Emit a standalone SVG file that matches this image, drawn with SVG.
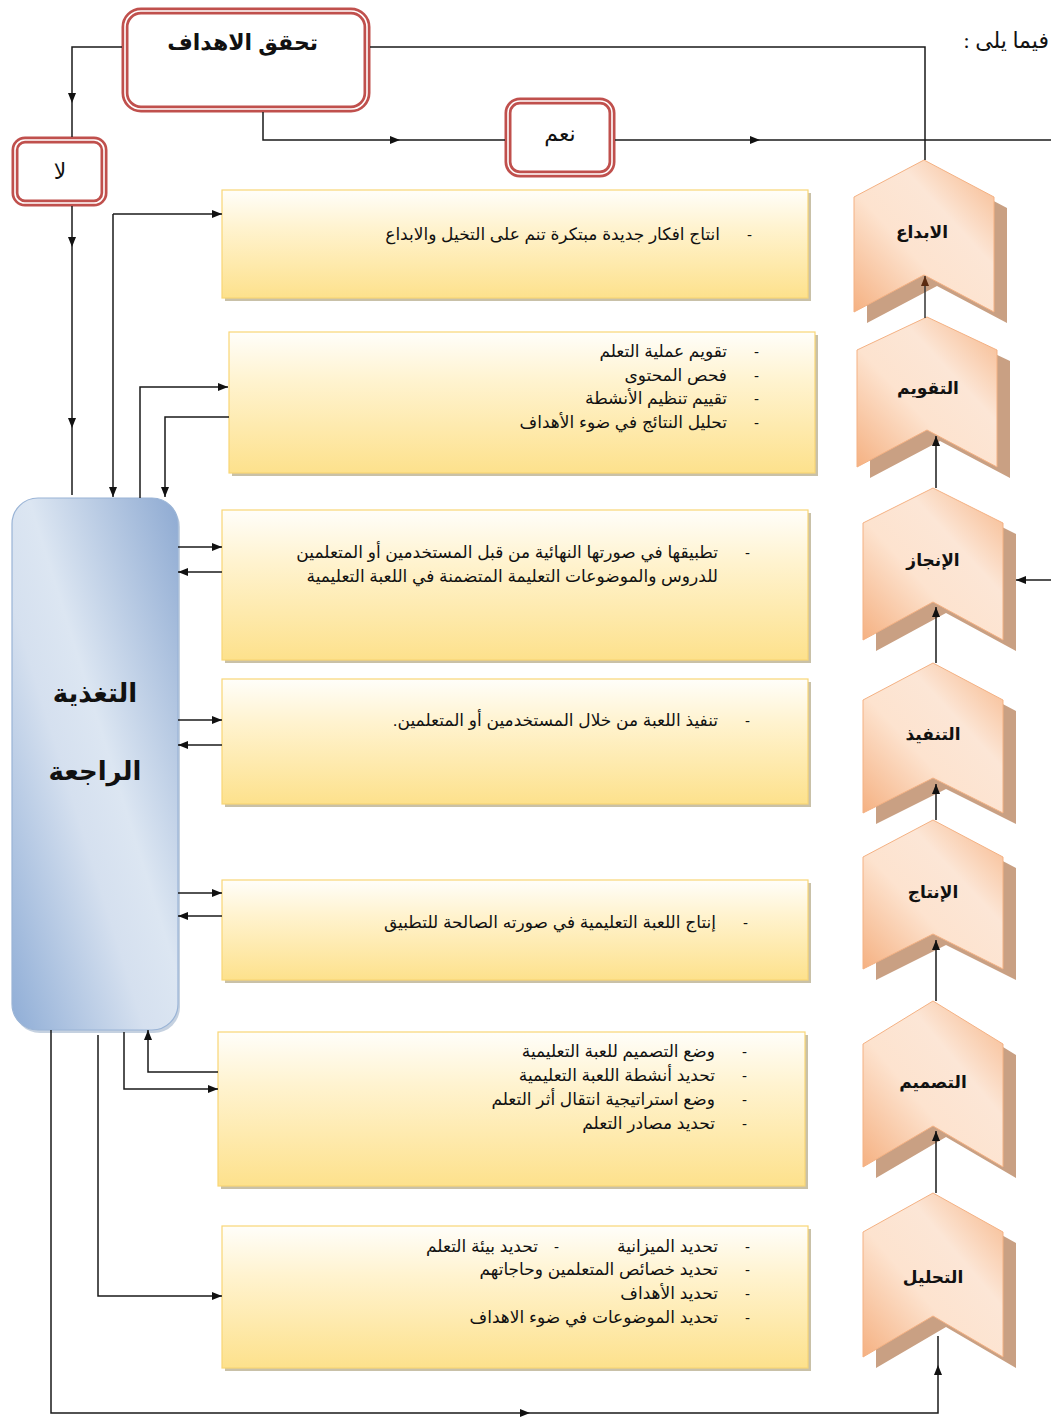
<svg xmlns="http://www.w3.org/2000/svg" width="1051" height="1418" viewBox="0 0 1051 1418">
<style>
.ar{font-family:"Liberation Sans","DejaVu Sans",sans-serif;fill:#111;direction:rtl;text-anchor:start}
.bt{font-size:17px}
.dash{font-family:"Liberation Sans","DejaVu Sans",sans-serif;font-size:15px;fill:#111}
.chl{font-family:"Liberation Sans","DejaVu Sans",sans-serif;font-size:17px;font-weight:bold;fill:#111;text-anchor:middle}
.ybox{fill:url(#yg);stroke:#f8d676;stroke-width:1.2}
.ysh{fill:#c9c1a8}
.red1{fill:#fff;stroke:#c0504d;stroke-width:7}
.red2{fill:none;stroke:#fff;stroke-width:1.6}
.chev{fill:url(#cg);stroke:#f4b183;stroke-width:1}
.chsh{fill:#c9a083}
.cn{fill:none;stroke:#1a1a1a;stroke-width:1.5}
.ca{fill:none;stroke:#1a1a1a;stroke-width:1.5;marker-end:url(#ah)}
</style>
<defs>
<marker id="ah" viewBox="0 0 10 10" refX="10" refY="5" markerWidth="10" markerHeight="10" markerUnits="userSpaceOnUse" orient="auto"><path d="M0,1 L10,5 L0,9 Z" fill="#111"/></marker>
<marker id="ahb" viewBox="0 0 10 10" refX="10" refY="5" markerWidth="10" markerHeight="10" markerUnits="userSpaceOnUse" orient="auto"><path d="M0,1 L10,5 L0,9 Z" fill="#5a2a10"/></marker>
<linearGradient id="yg" x1="0" y1="0" x2="0" y2="1">
<stop offset="0" stop-color="#fffefa"/><stop offset="0.35" stop-color="#fff3cf"/><stop offset="1" stop-color="#fde18c"/>
</linearGradient>
<linearGradient id="cg" x1="0" y1="1" x2="1" y2="0">
<stop offset="0" stop-color="#f5b182"/><stop offset="0.4" stop-color="#fde3cf"/><stop offset="0.65" stop-color="#fce6d6"/><stop offset="1" stop-color="#f6b587"/>
</linearGradient>
<linearGradient id="bg" x1="1" y1="0" x2="0" y2="1">
<stop offset="0" stop-color="#8eaad2"/><stop offset="0.45" stop-color="#dce6f2"/><stop offset="0.6" stop-color="#d5e0ef"/><stop offset="1" stop-color="#8fadd6"/>
</linearGradient>
</defs>

<text x="1049" y="48" class="ar" style="font-family:'Liberation Serif','DejaVu Sans',serif;font-size:22px">فيما يلى :</text>

<g id="goals">
<rect class="red1" x="125" y="11" width="242" height="98" rx="16"/>
<rect class="red2" x="125" y="11" width="242" height="98" rx="16"/>
<text x="318" y="50" class="ar" style="font-size:22px;font-weight:bold">تحقق الاهداف</text>
</g>
<g id="yes">
<rect class="red1" x="508" y="101" width="104" height="73" rx="12"/>
<rect class="red2" x="508" y="101" width="104" height="73" rx="12"/>
<text x="560" y="141" class="ar" style="font-size:22px;text-anchor:middle">نعم</text>
</g>
<g id="no">
<rect class="red1" x="15" y="140" width="89" height="63" rx="10"/>
<rect class="red2" x="15" y="140" width="89" height="63" rx="10"/>
<text x="60" y="179" class="ar" style="font-size:22px;text-anchor:middle">لا</text>
</g>

<g id="feedback">
<rect x="14" y="501" width="166" height="532" rx="26" fill="#9fb3cc" opacity="0.6"/>
<rect x="12" y="498" width="166" height="532" rx="26" fill="url(#bg)" stroke="#9ab4d6" stroke-width="1.2"/>
<text x="95" y="702" class="ar" style="font-size:26px;font-weight:bold;text-anchor:middle">التغذية</text>
<text x="95" y="780" class="ar" style="font-size:26px;font-weight:bold;text-anchor:middle">الراجعة</text>
</g>

<g id="box-creativity">
<rect class="ysh" x="225" y="193" width="586" height="108"/>
<rect class="ybox" x="222" y="190" width="586" height="108"/>
<text x="747" y="240" class="dash">-</text>
<text x="720" y="240" class="ar bt">انتاج افكار جديدة مبتكرة تنم على التخيل والابداع</text>
</g>
<g id="box-evaluation">
<rect class="ysh" x="232" y="335" width="586" height="141"/>
<rect class="ybox" x="229" y="332" width="586" height="141"/>
<text x="754" y="357" class="dash">-</text>
<text x="754" y="381" class="dash">-</text>
<text x="754" y="404" class="dash">-</text>
<text x="754" y="428" class="dash">-</text>
<text x="727" y="357" class="ar bt">تقويم عملية التعلم</text>
<text x="727" y="381" class="ar bt">فحص المحتوى</text>
<text x="727" y="404" class="ar bt">تقييم تنظيم الأنشطة</text>
<text x="727" y="428" class="ar bt">تحليل النتائج في ضوء الأهداف</text>
</g>
<g id="box-achievement">
<rect class="ysh" x="225" y="513" width="586" height="150"/>
<rect class="ybox" x="222" y="510" width="586" height="150"/>
<text x="745" y="558" class="dash">-</text>
<text x="718" y="558" class="ar bt">تطبيقها في صورتها النهائية من قبل المستخدمين أو المتعلمين</text>
<text x="718" y="582" class="ar bt">للدروس والموضوعات التعليمة المتضمنة في اللعبة التعليمية</text>
</g>
<g id="box-implementation">
<rect class="ysh" x="225" y="682" width="586" height="125"/>
<rect class="ybox" x="222" y="679" width="586" height="125"/>
<text x="745" y="726" class="dash">-</text>
<text x="718" y="726" class="ar bt">تنفيذ اللعبة من خلال المستخدمين أو  المتعلمين.</text>
</g>
<g id="box-production">
<rect class="ysh" x="225" y="883" width="586" height="100"/>
<rect class="ybox" x="222" y="880" width="586" height="100"/>
<text x="743" y="928" class="dash">-</text>
<text x="716" y="928" class="ar bt">إنتاج اللعبة التعليمية في صورته الصالحة للتطبيق</text>
</g>
<g id="box-design">
<rect class="ysh" x="221" y="1035" width="587" height="154"/>
<rect class="ybox" x="218" y="1032" width="587" height="154"/>
<text x="742" y="1057" class="dash">-</text>
<text x="742" y="1081" class="dash">-</text>
<text x="742" y="1105" class="dash">-</text>
<text x="742" y="1129" class="dash">-</text>
<text x="715" y="1057" class="ar bt">وضع التصميم للعبة التعليمية</text>
<text x="715" y="1081" class="ar bt">تحديد أنشطة اللعبة التعليمية</text>
<text x="715" y="1105" class="ar bt">وضع استراتيجية انتقال أثر التعلم</text>
<text x="715" y="1129" class="ar bt">تحديد مصادر التعلم</text>
</g>
<g id="box-analysis">
<rect class="ysh" x="225" y="1229" width="586" height="142"/>
<rect class="ybox" x="222" y="1226" width="586" height="142"/>
<text x="745" y="1252" class="dash">-</text>
<text x="554" y="1252" class="dash">-</text>
<text x="745" y="1275" class="dash">-</text>
<text x="745" y="1299" class="dash">-</text>
<text x="745" y="1323" class="dash">-</text>
<text x="718" y="1252" class="ar bt">تحديد الميزانية</text>
<text x="538" y="1252" class="ar bt">تحديد بيئة التعلم</text>
<text x="718" y="1275" class="ar bt">تحديد خصائص المتعلمين وحاجاتهم</text>
<text x="718" y="1299" class="ar bt">تحديد الأهداف</text>
<text x="718" y="1323" class="ar bt">تحديد الموضوعات في ضوء الاهداف</text>
</g>

<g id="chev-creativity">
<path class="chsh" d="M937,171 L1007,208 L1007,323 L937,286 L867,323 L867,208 Z"/>
<path class="chev" d="M924,160 L994,197 L994,312 L924,275 L854,312 L854,197 Z"/>
<text x="922" y="238" class="chl">الابداع</text>
</g>
<g id="chev-evaluation">
<path class="chsh" d="M940,328 L1010,361 L1010,478 L940,441 L870,478 L870,361 Z"/>
<path class="chev" d="M927,317 L997,350 L997,467 L927,430 L857,467 L857,350 Z"/>
<text x="928" y="394" class="chl">التقويم</text>
</g>
<g id="chev-achievement">
<path class="chsh" d="M946,499 L1016,534 L1016,651 L946,613 L876,651 L876,534 Z"/>
<path class="chev" d="M933,488 L1003,523 L1003,640 L933,602 L863,640 L863,523 Z"/>
<text x="933" y="566" class="chl">الإنجاز</text>
</g>
<g id="chev-implementation">
<path class="chsh" d="M946,674 L1016,711 L1016,824 L946,789 L876,824 L876,711 Z"/>
<path class="chev" d="M933,663 L1003,700 L1003,813 L933,778 L863,813 L863,700 Z"/>
<text x="933" y="740" class="chl">التنفيذ</text>
</g>
<g id="chev-production">
<path class="chsh" d="M946,831 L1016,868 L1016,980 L946,945 L876,980 L876,868 Z"/>
<path class="chev" d="M933,820 L1003,857 L1003,969 L933,934 L863,969 L863,857 Z"/>
<text x="933" y="898" class="chl">الإنتاج</text>
</g>
<g id="chev-design">
<path class="chsh" d="M946,1012 L1016,1055 L1016,1178 L946,1137 L876,1178 L876,1055 Z"/>
<path class="chev" d="M933,1001 L1003,1044 L1003,1167 L933,1126 L863,1167 L863,1044 Z"/>
<text x="933" y="1088" class="chl">التصميم</text>
</g>
<g id="chev-analysis">
<path class="chsh" d="M946,1204 L1016,1243 L1016,1368 L946,1327 L876,1368 L876,1243 Z"/>
<path class="chev" d="M933,1193 L1003,1232 L1003,1357 L933,1316 L863,1357 L863,1232 Z"/>
<text x="933" y="1283" class="chl">التحليل</text>
</g>

<g id="connectors">
<path class="cn" d="M370,47 H925 V160"/>
<path class="ca" d="M122,47 H72 V103"/>
<path class="cn" d="M72,103 V137"/>
<path class="ca" d="M263,112 V140 H400"/>
<path class="cn" d="M400,140 H505"/>
<path class="ca" d="M615,140 H760"/>
<path class="cn" d="M760,140 H1051"/>
<path class="ca" d="M72,206 V247"/>
<path class="ca" d="M72,247 V428"/>
<path class="cn" d="M72,428 V495"/>
<path class="ca" d="M113,214 V497"/>
<path class="ca" d="M113,214 H222"/>
<path class="ca" d="M140,498 V387 H228"/>
<path class="ca" d="M229,417 H165 V497"/>
<path class="ca" d="M178,547 H222"/>
<path class="ca" d="M222,572 H178"/>
<path class="ca" d="M178,720 H222"/>
<path class="ca" d="M222,745 H178"/>
<path class="ca" d="M178,893 H222"/>
<path class="ca" d="M222,916 H178"/>
<path class="ca" d="M218,1072 H148 V1030"/>
<path class="ca" d="M124,1032 V1089 H218"/>
<path class="ca" d="M98,1035 V1296 H222"/>
<path class="ca" d="M51,1030 V1413 H530"/>
<path class="ca" d="M530,1413 H938 V1365"/>
<path class="cn" d="M938,1365 V1336"/>
<path class="ca" d="M1051,580 H1016"/>
<path d="M925,318 V276" style="fill:none;stroke:#333;stroke-width:1.5;marker-end:url(#ahb)"/>
<path class="ca" d="M936,488 V436"/>
<path class="ca" d="M936,663 V607"/>
<path class="ca" d="M936,820 V784"/>
<path class="ca" d="M936,1001 V940"/>
<path class="ca" d="M936,1193 V1131"/>
</g>
</svg>
